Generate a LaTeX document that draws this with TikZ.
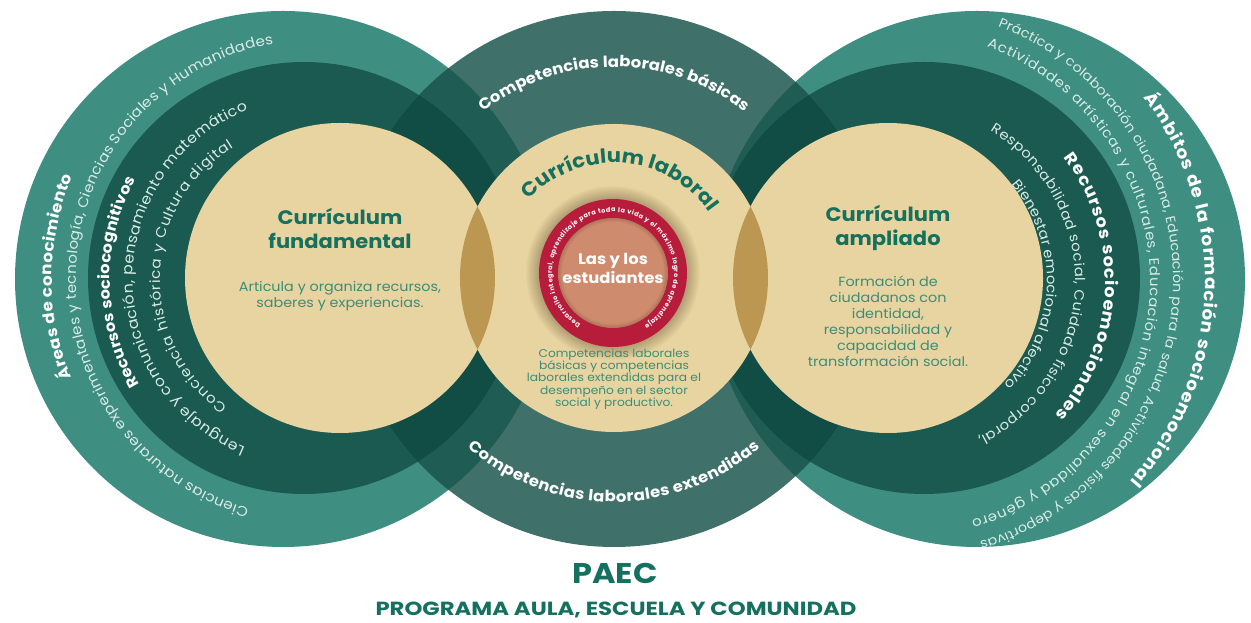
\documentclass[tikz,border=0pt]{standalone}
\usepackage{fontspec}
\setmainfont{Poppins}[FakeStretch=1.08]
\newfontfamily\ringfont{Poppins}
\usetikzlibrary{decorations.text}
\definecolor{cOuter}{HTML}{3F8E82}
\definecolor{cDark}{HTML}{1B5A51}
\definecolor{cMid}{HTML}{3F706A}
\definecolor{cOvA}{HTML}{1F5D54}
\definecolor{cOvB}{HTML}{124D45}
\definecolor{cBeige}{HTML}{E8D4A0}
\definecolor{cLens}{HTML}{BC9752}
\definecolor{cRed}{HTML}{B71C3B}
\definecolor{cSalmon}{HTML}{CF8B6D}
\definecolor{cTitle}{HTML}{16705F}
\definecolor{cBody}{HTML}{3C8D78}
\definecolor{cLight}{HTML}{D8ECE6}
\newcommand\arcT[8]{%
  \path[decorate,decoration={text along path,text align={#5},text color=#6,text={|#7|#8}}]
    ([shift={(#3:#2)}]#1) arc[start angle=#3,end angle=#4,radius=#2];}
\newcommand\fsz[1]{\fontsize{#1}{#1}\selectfont}
\begin{document}
\begin{tikzpicture}[x=1pt,y=1pt,
  title/.style={align=center,inner sep=0pt,text=cTitle,font=\fontsize{19.5}{24}\selectfont\bfseries},
  body/.style={align=center,inner sep=0pt,text=cBody,font=\fontsize{13.3}{16}\selectfont},
  bodysm/.style={align=center,inner sep=0pt,text=cBody,font=\fontsize{11.3}{12.2}\selectfont}]
\useasboundingbox (0,0) rectangle (1251,623);
\fill[white] (0,0) rectangle (1251,623);
% centres
\coordinate (L0) at (283,344);
\coordinate (L1) at (304,345);
\coordinate (LB) at (340,345);
\coordinate (C0) at (614,344);
\coordinate (CB) at (614,345);
\coordinate (R0) at (977,344);
\coordinate (R1) at (924,345);
\coordinate (RB) at (888,345);
\coordinate (RR) at (613,350);
\coordinate (LC) at (315,344);
\coordinate (RC) at (900,342);
% discs
\fill[cOuter] (L0) circle[radius=268];
\fill[cOuter] (R0) circle[radius=268];
\fill[cDark] (L1) circle[radius=216];
\fill[cDark] (R1) circle[radius=216];
\fill[cMid] (C0) circle[radius=268];
\begin{scope}
  \clip (C0) circle[radius=268];
  \fill[cOvA] (L0) circle[radius=268];
  \fill[cOvA] (R0) circle[radius=268];
  \fill[cOvB] (L1) circle[radius=216];
  \fill[cOvB] (R1) circle[radius=216];
\end{scope}
\fill[cBeige] (LB) circle[radius=155];
\fill[cBeige] (RB) circle[radius=155];
\fill[cBeige] (CB) circle[radius=154];
\begin{scope}
  \clip (CB) circle[radius=154];
  \fill[cLens] (LB) circle[radius=155];
  \fill[cLens] (RB) circle[radius=155];
\end{scope}
% red ring with soft shadow
\foreach \rr in {75,...,87} \fill[black!70!brown,opacity=0.025] (RR) circle[radius=\rr];
\fill[cRed] (RR) circle[radius=74];
\fill[cSalmon] (RR) circle[radius=55];
\foreach \rr in {51,...,55} \fill[even odd rule,black,opacity=0.03] (RR) circle[radius=55] circle[radius=\rr];
% texts left
\arcT{LC}{263}{202}{157}{fit to path}{white}{\fsz{15.5}\bfseries}{Áreas de conocimiento}
\arcT{LC}{239}{254}{100}{fit to path}{cLight}{\fsz{14}}{Ciencias naturales experimentales y tecnología, Ciencias Sociales y Humanidades}
\arcT{LC}{205}{211}{151}{fit to path}{white}{\fsz{15}\bfseries}{Recursos sociocognitivos}
\arcT{LC}{182}{247.5}{111.6}{fit to path}{cLight}{\fsz{14.5}}{Lenguaje y comunicación, pensamiento matemático}
\arcT{LC}{155}{235.5}{121.7}{fit to path}{cLight}{\fsz{14}}{Conciencia histórica y Cultura digital}
% texts right
\arcT{RC}{305}{37}{-41}{fit to path}{white}{\fsz{17}\bfseries}{Ámbitos de la formación socioemocional}
\arcT{RC}{273}{69}{-73}{fit to path}{cLight}{\fsz{13.2}}{Práctica y colaboración ciudadana, Educación para la salud, Actividades físicas y deportivas}
\arcT{RC}{250}{69.7}{-73.4}{fit to path}{cLight}{\fsz{13.7}}{Actividades artísticas y culturales, Educación integral en sexualidad y género}
\arcT{RC}{205}{37}{-41}{fit to path}{white}{\fsz{16.5}\bfseries}{Recursos socioemocionales}
\arcT{RC}{175}{59}{-63.6}{fit to path}{cLight}{\fsz{13.7}}{Responsabilidad social, Cuidado físico corporal,}
\arcT{RC}{147}{41}{-44.7}{fit to path}{cLight}{\fsz{13.7}}{Bienestar emocional afectivo}
% texts centre
\arcT{C0}{212}{128}{52}{fit to path}{white}{\fsz{15.3}\bfseries}{Competencias laborales básicas}
\arcT{C0}{223}{229}{311}{fit to path}{white}{\fsz{15.3}\bfseries}{Competencias laborales extendidas}
\arcT{C0}{116}{176}{-4}{center}{cTitle}{\fsz{19.5}\bfseries}{Currículum laboral}
\arcT{RR}{61}{238}{-59}{fit to path}{white}{\ringfont\fsz{6.5}\bfseries}{Desarrollo integral, aprendizaje para toda la vida y el máximo logro de aprendizaje}
% nodes
\node[title] (cf) at (340,395) {Currículum\\fundamental};
\node[body] (af) at (340,327) {Articula y organiza recursos,\\saberes y experiencias.};
\node[title] (ca) at (888,395) {Currículum\\ampliado};
\node[body] (fa) at (888,301.5) {Formación de\\ciudadanos con\\identidad,\\responsabilidad y\\capacidad de\\transformación social.};
\node[bodysm] (cl) at (614,244) {Competencias laborales\\básicas y competencias\\laborales extendidas para el\\desempeño en el sector\\social y productivo.};
\node[align=center,inner sep=0pt,text=white,font=\fontsize{15.2}{19}\selectfont\bfseries] (le) at (613,354.5) {Las y los\\estudiantes};
\node[inner sep=0pt,text=cTitle,font=\fontsize{28.5}{30}\selectfont\bfseries,xscale=1.04,transform shape] (paec) at (615,50) {PAEC};
\node[inner sep=0pt,text=cTitle,font=\fontsize{19}{20}\selectfont\bfseries,xscale=1.11,transform shape] (prog) at (616,13) {PROGRAMA AULA, ESCUELA Y COMUNIDAD};
\end{tikzpicture}
\end{document}
